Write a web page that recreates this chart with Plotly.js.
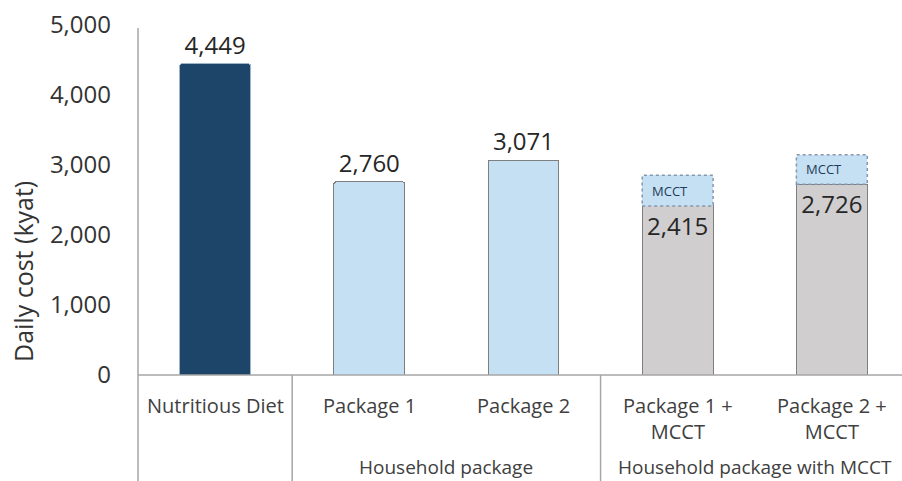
<!DOCTYPE html>
<html><head><meta charset="utf-8">
<script src="https://cdn.plot.ly/plotly-3.0.1.min.js"></script>
<style>html,body{margin:0;padding:0;background:#fff;overflow:hidden}#chart{width:902px;height:481px}</style>
</head><body><div id="chart"></div>
<script>
// ---- data ----
const categories = ["Nutritious Diet", "Package 1", "Package 2", "Package 1 +<br>MCCT", "Package 2 +<br>MCCT"];
const baseCost = [4449, 2760, 3071, 2415, 2726];
const mcctTopUp = [null, null, null, 440, 420];
const valueLabels = ["4,449", "2,760", "3,071", "2,415", "2,726"];
const mcctLabel = "MCCT";
const groupNames = ["Household package", "Household package with MCCT"];
const groupMembers = [[1, 2], [3, 4]];
const yTicks = [0, 1000, 2000, 3000, 4000, 5000];
const yTitle = "Daily cost (kyat)";

// ---- styling ----
const FONT = "Open Sans, Noto Sans, sans-serif";
const TXT = "#262626";
const barFill = ["#1d4569", "#c5dff3", "#c5dff3", "#d0cece", "#d0cece"];
const barEdge = ["#9fb4c8", "#7f7f7f", "#7f7f7f", "#7f7f7f", "#7f7f7f"];
const BW = 0.46;
const xr = [-0.5, 4.455];
const ml = 138, mt = 25, mb = 106, W = 902, H = 481;
const plotH = H - mt - mb, plotW = W - ml;
const px2py = p => (H - mb - p) / plotH;          // pixel y -> paper y
const xi = categories.map((_, i) => i);
const xpaper = v => (v - xr[0]) / (xr[1] - xr[0]);

const traces = [
  {
    type: "bar", x: xi, y: baseCost, width: BW,
    marker: { color: barFill, line: { color: barEdge, width: 1 } },
    text: valueLabels,
    textposition: ["outside", "outside", "outside", "inside", "inside"],
    insidetextanchor: "end",
    textfont: { family: FONT, size: 24, color: TXT },
    insidetextfont: { family: FONT, size: 24, color: TXT },
    outsidetextfont: { family: FONT, size: 24, color: TXT },
    constraintext: "none", cliponaxis: false, hoverinfo: "skip"
  },
  {
    type: "bar", x: xi, y: mcctTopUp, width: BW,
    marker: { color: "#c5dff3", line: { width: 0 }, cornerradius: 3 },
    hoverinfo: "skip"
  }
];

const shapes = [];
// dotted outline of MCCT top-ups
xi.forEach(i => {
  if (mcctTopUp[i] != null) {
    shapes.push({ type: "rect", xref: "x", yref: "y", layer: "above",
      x0: i - BW / 2, x1: i + BW / 2, y0: baseCost[i], y1: baseCost[i] + mcctTopUp[i],
      line: { color: "#8497b0", width: 1.5, dash: "dot" } });
  }
});
// y axis line extended down through label area
shapes.push({ type: "line", xref: "paper", yref: "paper", x0: 0, x1: 0, y0: px2py(28), y1: px2py(H + 2),
  line: { color: "#a6a6a6", width: 1.5 } });
// baseline
shapes.push({ type: "line", xref: "paper", yref: "paper", x0: 0, x1: 1, y0: 0, y1: 0,
  line: { color: "#a6a6a6", width: 1.5 } });
// group separators
const seps = [0.5, 2.5];
seps.forEach(s => shapes.push({ type: "line", xref: "paper", yref: "paper",
  x0: xpaper(s), x1: xpaper(s), y0: 0, y1: px2py(H + 2), line: { color: "#a6a6a6", width: 1.5 } }));

const annotations = [];
categories.forEach((c, i) => annotations.push({ xref: "x", yref: "paper", x: i, y: px2py(390),
  yanchor: "top", xanchor: "center", showarrow: false, text: c, align: "center",
  font: { family: FONT, size: 20, color: "#404040" } }));
groupNames.forEach((g, k) => {
  const m = groupMembers[k];
  annotations.push({ xref: "x", yref: "paper", x: (m[0] + m[m.length - 1]) / 2, y: px2py(467),
    yanchor: "middle", xanchor: "center", showarrow: false, text: g,
    font: { family: FONT, size: 19, color: "#404040" } });
});
xi.forEach(i => {
  if (mcctTopUp[i] != null) annotations.push({ xref: "x", yref: "y", x: i, y: baseCost[i] + mcctTopUp[i] / 2,
    xshift: -8, showarrow: false, text: mcctLabel, font: { family: FONT, size: 13, color: "#1f3b57" } });
});
annotations.push({ xref: "paper", yref: "paper", x: (23 - ml) / plotW, y: px2py(272), textangle: -90,
  showarrow: false, text: yTitle, xanchor: "center", yanchor: "middle",
  font: { family: FONT, size: 25, color: "#333333" } });

const layout = {
  width: W, height: H,
  margin: { l: ml, r: 0, t: mt, b: mb, pad: 0 },
  paper_bgcolor: "#fff", plot_bgcolor: "#fff",
  barmode: "stack", showlegend: false,
  xaxis: { type: "linear", range: xr, showticklabels: false, showgrid: false, zeroline: false, showline: false, ticks: "" },
  yaxis: { range: [0, 5000], tickvals: yTicks, tickformat: ",d", showgrid: false, zeroline: false, showline: false,
    ticks: "", ticklabelstandoff: 26, tickfont: { family: FONT, size: 24, color: "#333333" } },
  shapes: shapes, annotations: annotations
};
Plotly.newPlot("chart", traces, layout, { staticPlot: true, displayModeBar: false });
</script></body></html>
